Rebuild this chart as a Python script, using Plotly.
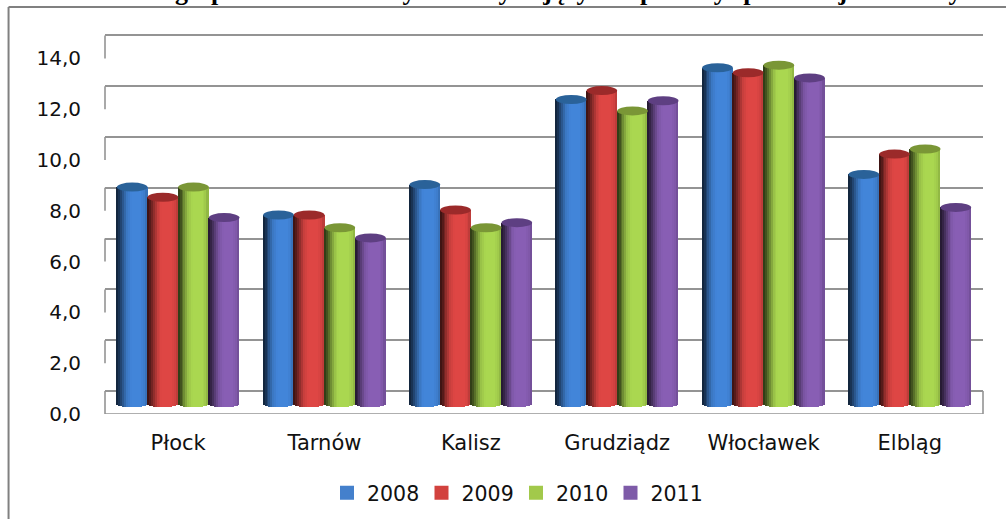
import plotly.graph_objects as go

categories = ["Płock", "Tarnów", "Kalisz", "Grudziądz", "Włocławek", "Elbląg"]
years = ["2008", "2009", "2010", "2011"]
v2008 = [8.5, 7.4, 8.6, 11.95, 13.2, 9.0]
v2009 = [8.1, 7.4, 7.6, 12.3, 13.0, 9.8]
v2010 = [8.5, 6.9, 6.9, 11.5, 13.3, 10.0]
v2011 = [7.3, 6.5, 7.1, 11.9, 12.8, 7.7]
series = [v2008, v2009, v2010, v2011]
tick_values = [0, 2, 4, 6, 8, 10, 12, 14]
tick_labels = ["0,0", "2,0", "4,0", "6,0", "8,0", "10,0", "12,0", "14,0"]

main_colors = [(66, 133, 217), (222, 70, 68), (170, 215, 80), (136, 94, 180)]
cap_colors = ["#2A6299", "#9B2A2A", "#7A9636", "#5E3F82"]
legend_colors = ["#4480CC", "#D2423E", "#A2C94B", "#7E5BA8"]

W, H = 1006, 519
LEFT, RIGHT = 104.5, 983
TOP, FRONT0, BASE0, BACK0 = 32, 414, 403, 391
S = 25.4
GROUP = 0.838
BW = GROUP / 4
NSTRIP = 16
CAP_RY = 4.5 / S
FOOT_RY = 4.5 / S
GRID = "#949494"
FONT = "DejaVu Sans"
TXT = "#111111"


def shade(rgb, t):
    stops = [(0, .24), (.1, .4), (.22, .66), (.34, .9), (.48, 1.0), (.8, 1.0), (.93, .93), (1, .8)]
    for (a, fa), (b, fb) in zip(stops, stops[1:]):
        if a <= t <= b:
            f = fa + (fb - fa) * (t - a) / (b - a)
            break
    return "rgb(%d,%d,%d)" % tuple(min(255, c * f) for c in rgb)


fig = go.Figure()
xs = list(range(len(categories)))

# helper traces so the grid axis and the label axis exist
fig.add_trace(go.Scatter(x=[0], y=[0], yaxis="y", mode="none", showlegend=False, hoverinfo="skip"))
fig.add_trace(go.Scatter(x=[0], y=[0], yaxis="y3", mode="none", showlegend=False, hoverinfo="skip"))

shapes = []
for i, vals in enumerate(series):
    off = -GROUP / 2 + i * BW
    # legend-only swatch, slightly enlarged through its outline
    fig.add_trace(go.Bar(x=[None], y=[None], name=years[i], yaxis="y2",
                         marker=dict(color=legend_colors[i], line=dict(width=2, color=legend_colors[i]))))
    fig.add_trace(go.Bar(x=xs, y=vals, name=years[i], yaxis="y2", width=BW, offset=off, showlegend=False,
                         marker=dict(color=legend_colors[i], line=dict(width=0))))
    for j in range(NSTRIP):
        t = (j + .5) / NSTRIP
        foot = -FOOT_RY * (1 - (2 * t - 1) ** 2) ** .5
        fig.add_trace(go.Bar(x=xs, y=[v - foot for v in vals], base=foot, yaxis="y2",
                             width=BW / NSTRIP, offset=off + j * BW / NSTRIP,
                             marker=dict(color=shade(main_colors[i], t), line=dict(width=0)),
                             showlegend=False, hoverinfo="skip"))
    for x, v in zip(xs, vals):
        shapes.append(dict(type="circle", xref="x", yref="y2", layer="above",
                           x0=x + off, x1=x + off + BW, y0=v - CAP_RY, y1=v + CAP_RY,
                           fillcolor=cap_colors[i], line=dict(width=0)))

# back-wall drops and floor
drop = (FRONT0 - BACK0) / S
line = dict(color=GRID, width=1.6)
for v in tick_values:
    shapes.append(dict(type="line", xref="paper", yref="y", x0=0, x1=0, y0=v, y1=v - drop, layer="below", line=line))
shapes.append(dict(type="line", xref="paper", yref="y", x0=0, x1=1, y0=-drop, y1=-drop, layer="below", line=line))
shapes.append(dict(type="line", xref="paper", yref="y", x0=1, x1=1, y0=0, y1=-drop, layer="below", line=line))

# outer frame
frame = dict(color="#808080", width=2)
PW, PH = RIGHT - LEFT, FRONT0 - TOP
shapes.append(dict(type="line", xref="paper", yref="paper", x0=(8 - LEFT) / PW, x1=(W - LEFT) / PW,
                   y0=(FRONT0 - 7) / PH, y1=(FRONT0 - 7) / PH, line=frame))
shapes.append(dict(type="line", xref="paper", yref="paper", x0=(8 - LEFT) / PW, x1=(8 - LEFT) / PW,
                   y0=(FRONT0 - 7) / PH, y1=(FRONT0 - H) / PH, line=frame))

fig.update_layout(
    width=W, height=H, autosize=False,
    margin=dict(l=LEFT, r=W - RIGHT, t=TOP, b=H - FRONT0, pad=0),
    paper_bgcolor="white", plot_bgcolor="white",
    barmode="overlay", bargap=0,
    font=dict(family=FONT, size=20, color=TXT),
    shapes=shapes,
    xaxis=dict(range=[-.5, 5.5], tickmode="array", tickvals=xs, ticktext=categories,
               showgrid=False, zeroline=False, showline=False, ticks="",
               ticklabelstandoff=14, tickfont=dict(size=21)),
    yaxis=dict(range=[-(FRONT0 - BACK0) / S, (BACK0 - TOP) / S], tickmode="array", tickvals=tick_values,
               showticklabels=False, showgrid=True, gridcolor=GRID, gridwidth=1.6, zeroline=False, ticks=""),
    yaxis2=dict(range=[-(FRONT0 - BASE0) / S, (BASE0 - TOP) / S], overlaying="y", side="left",
                showticklabels=False, showgrid=False, zeroline=False, ticks=""),
    yaxis3=dict(range=[0, (FRONT0 - TOP) / S], overlaying="y", side="left", tickmode="array",
                tickvals=tick_values, ticktext=tick_labels, showgrid=False, zeroline=False, ticks="",
                ticklabelstandoff=23, tickfont=dict(size=20)),
    legend=dict(orientation="h", xref="container", yref="container",
                x=327 / W, xanchor="left", y=1 - 473 / H, yanchor="top",
                entrywidth=49.5, entrywidthmode="pixels", font=dict(size=20.5), bgcolor="rgba(0,0,0,0)",
                traceorder="normal"),
    showlegend=True,
    annotations=[dict(text="<b>Tabela. Udział gospodarstw domowych korzystających z pomocy społecznej w badanych miastach</b>",
                      xref="paper", yref="paper", x=(6 - LEFT) / PW, xanchor="left",
                      y=(FRONT0 - 8) / PH, yanchor="bottom", showarrow=False,
                      font=dict(family="Liberation Serif", size=26, color="#000000"))],
)

fig.write_html("out.html", config={"displayModeBar": False},
               post_script="document.body.style.margin='0';document.body.style.overflow='hidden';")
